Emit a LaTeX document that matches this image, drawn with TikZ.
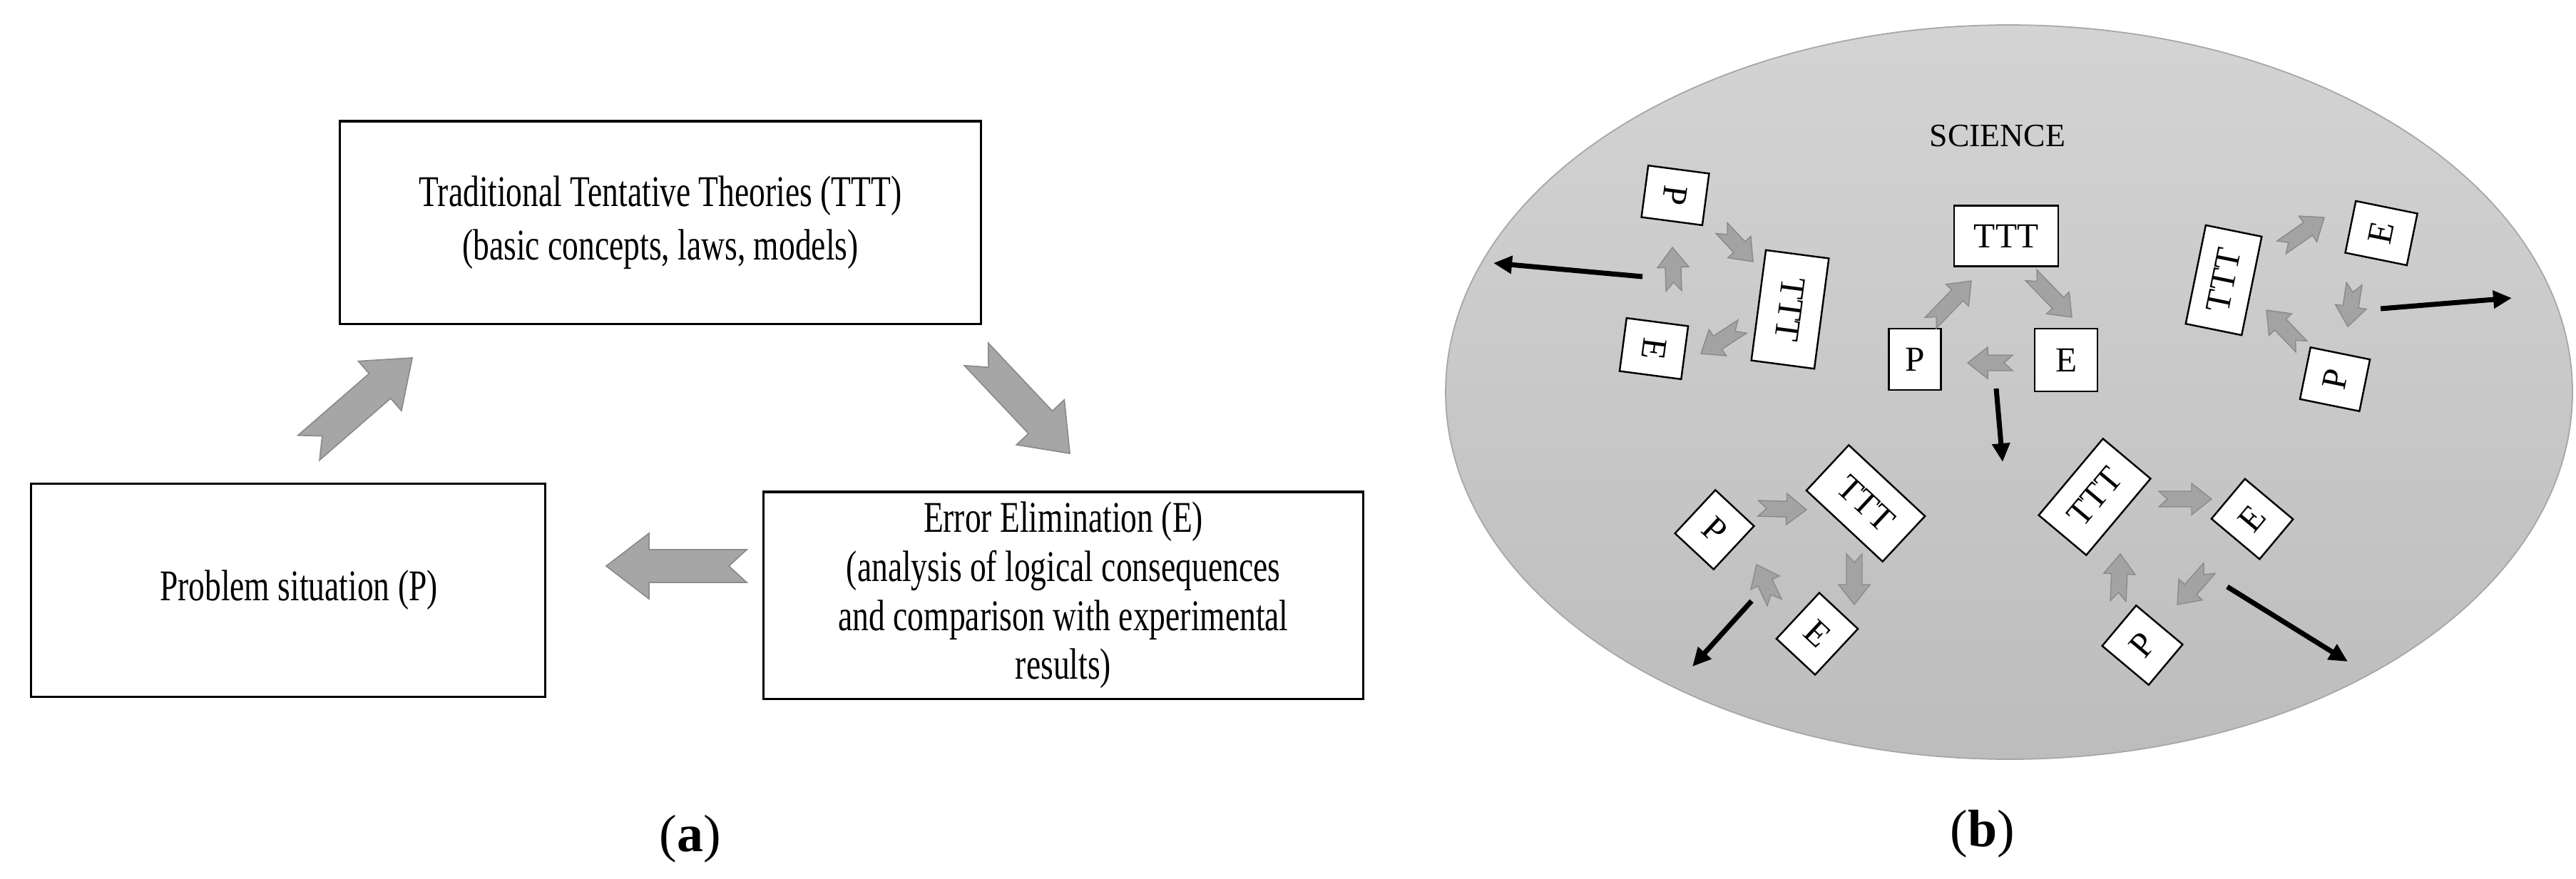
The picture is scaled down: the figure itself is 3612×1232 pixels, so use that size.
\documentclass[tikz,border=0pt]{standalone}
\usepackage{fontspec}
\setmainfont{Liberation Serif}
\usetikzlibrary{calc,arrows.meta}
\newcommand{\blkarrow}[7]{%
 \coordinate (bA) at #2; \coordinate (bB) at #3;
 \coordinate (bH) at ($(bB)!#6!(bA)$);
 \coordinate (bN) at ($(bA)!#7!(bB)$);
 \draw[#1] ($(bA)!#4!90:(bB)$) -- ($(bH)!#4!-90:(bA)$) -- ($(bH)!#5!-90:(bA)$) -- (bB) -- ($(bH)!#5!90:(bA)$) -- ($(bH)!#4!90:(bA)$) -- ($(bA)!#4!-90:(bB)$) -- (bN) -- cycle;}
\newcommand{\bigarw}[2]{\blkarrow{bigarr}{#1}{#2}{0.23cm}{0.46cm}{0.6cm}{0.25cm}}
\newcommand{\smarw}[2]{\blkarrow{smarr}{#1}{#2}{0.11cm}{0.22cm}{0.28cm}{0.12cm}}
\newcommand{\nr}[1]{\scalebox{0.74}[1]{#1}}
\begin{document}
\begin{tikzpicture}[x=0.01cm,y=0.01cm,
 abox/.style={draw=black,line width=0.9pt,fill=white,inner sep=0pt,align=center,font=\fontsize{17.5}{19.5}\selectfont},
 sbox/.style={draw=black,line width=0.7pt,fill=white,inner sep=0pt,font=\fontsize{14}{16}\selectfont},
 bigarr/.style={fill=black!35,draw=black!45,line width=0.5pt},
 smarr/.style={fill=black!36,draw=black!46,line width=0.4pt},
 outarr/.style={line width=2pt,-{Triangle[length=0.26cm,width=0.24cm]}},
 lab/.style={font=\fontsize{21}{24}\selectfont}]
\useasboundingbox (0,0) rectangle (3612,-1232);
% ---------- panel (a)
\node[abox,minimum width=8.98cm,minimum height=2.84cm] (ttt) at (926,-312) {\nr{Traditional Tentative Theories (TTT)}\\[2pt]\nr{(basic concepts, laws, models)}};
\node[abox,minimum width=7.21cm,minimum height=2.99cm] (prob) at (404,-828) {\nr{\hspace*{0.4cm}Problem situation (P)}};
\node[abox,minimum width=8.41cm,minimum height=2.90cm] (err) at (1491,-835) {\nr{Error Elimination (E)}\\\nr{(analysis of logical consequences}\\\nr{and comparison with experimental}\\\nr{results)}};
\bigarw{(433,-628)}{(578,-502)}
\bigarw{(1369,-497)}{(1500,-636)}
\bigarw{(1047,-794)}{(850,-794)}
\node[lab] (la) at (968,-1177) {(\textbf{a})};
% ---------- panel (b)
\shade[top color=black!17,bottom color=black!26,draw=black!35,line width=0.5pt] (2817,-550) ellipse [x radius=790,y radius=515];
\node[font=\fontsize{13}{15}\selectfont] (sci) at (2801,-191) {SCIENCE};
% central cluster
\node[sbox,minimum width=1.46cm,minimum height=0.85cm] (cT) at (2813,-331) {TTT};
\node[sbox,minimum width=0.73cm,minimum height=0.86cm] (cP) at (2685,-504) {P};
\node[sbox,minimum width=0.88cm,minimum height=0.88cm] (cE) at (2897,-505) {E};
\smarw{(2707,-453)}{(2764,-394)}
\smarw{(2848,-386)}{(2905,-445)}
\smarw{(2822,-509)}{(2759,-509)}
\coordinate (o1a) at (2799,-545); \coordinate (o1b) at (2808,-648);
\draw[outarr] (o1a) -- (o1b);
% left cluster
\node[sbox,rotate=-97.5,minimum width=0.73cm,minimum height=0.86cm] (lP) at (2349,-274) {P};
\node[sbox,rotate=-97.5,minimum width=0.75cm,minimum height=0.87cm] (lE) at (2319,-489) {E};
\node[sbox,rotate=-97.5,minimum width=1.56cm,minimum height=0.89cm] (lT) at (2510,-434) {TTT};
\smarw{(2414,-320)}{(2458,-367)}
\smarw{(2443,-458)}{(2385,-496)}
\smarw{(2347,-408)}{(2345,-347)}
\coordinate (o2a) at (2303,-388); \coordinate (o2b) at (2094,-369);
\draw[outarr] (o2a) -- (o2b);
% right cluster
\node[sbox,rotate=78.5,minimum width=1.41cm,minimum height=0.80cm] (rT) at (3118,-393) {TTT};
\node[sbox,rotate=78.5,minimum width=0.74cm,minimum height=0.88cm] (rE) at (3339,-327) {E};
\node[sbox,rotate=78.5,minimum width=0.74cm,minimum height=0.85cm] (rP) at (3274,-532) {P};
\smarw{(3199,-347)}{(3259,-305)}
\smarw{(3301,-398)}{(3292,-458)}
\smarw{(3227,-486)}{(3178,-435)}
\coordinate (o3a) at (3338,-433); \coordinate (o3b) at (3522,-418);
\draw[outarr] (o3a) -- (o3b);
% bottom-left cluster
\node[sbox,rotate=-43,minimum width=1.46cm,minimum height=0.87cm] (blT) at (2616,-706) {TTT};
\node[sbox,rotate=-43,minimum width=0.74cm,minimum height=0.83cm] (blP) at (2404,-743) {P};
\node[sbox,rotate=-43,minimum width=0.74cm,minimum height=0.88cm] (blE) at (2548,-889) {E};
\smarw{(2465,-713)}{(2533,-715)}
\smarw{(2600,-777)}{(2600,-848)}
\smarw{(2488,-845)}{(2463,-792)}
\coordinate (o4a) at (2456,-843); \coordinate (o4b) at (2373,-935);
\draw[outarr] (o4a) -- (o4b);
% bottom-right cluster
\node[sbox,rotate=50,minimum width=1.40cm,minimum height=0.87cm] (brT) at (2937,-697) {TTT};
\node[sbox,rotate=50,minimum width=0.73cm,minimum height=0.88cm] (brE) at (3158,-728) {E};
\node[sbox,rotate=50,minimum width=0.74cm,minimum height=0.85cm] (brP) at (3004,-905) {P};
\smarw{(3027,-700)}{(3101,-700)}
\smarw{(3098,-797)}{(3053,-848)}
\smarw{(2970,-843)}{(2973,-777)}
\coordinate (o5a) at (3123,-823); \coordinate (o5b) at (3292,-928);
\draw[outarr] (o5a) -- (o5b);
\node[lab] (lb) at (2780,-1170) {(\textbf{b})};
\end{tikzpicture}
\end{document}
